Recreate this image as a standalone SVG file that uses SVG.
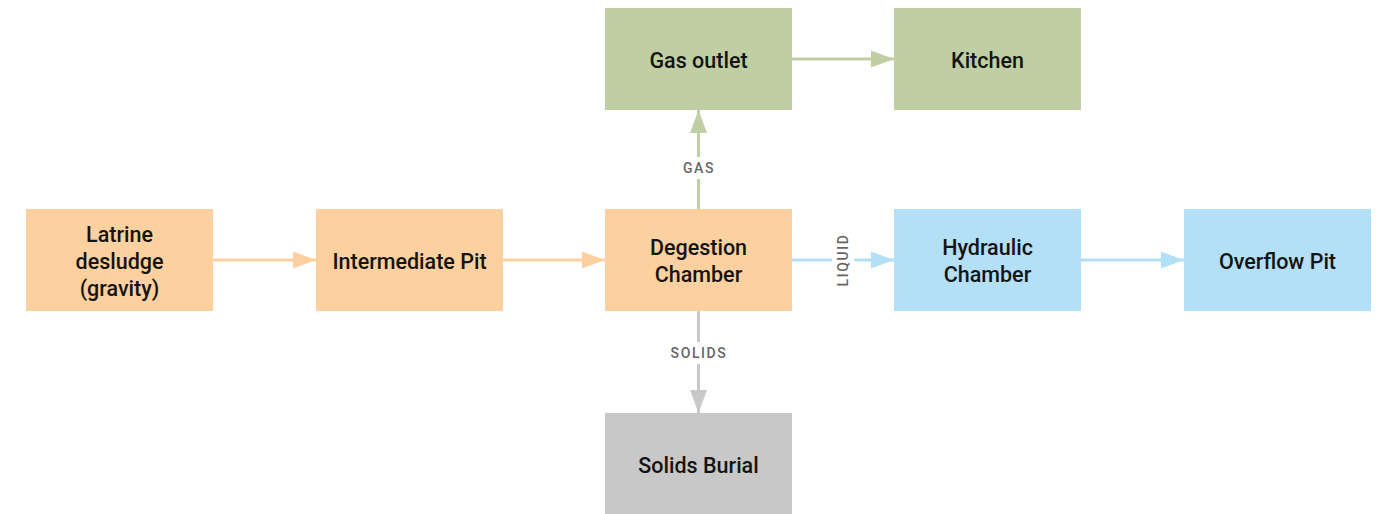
<svg xmlns="http://www.w3.org/2000/svg" width="1376" height="514" viewBox="0 0 1376 514">
<style>
.node text{font-family:Roboto,"Liberation Sans",sans-serif;font-weight:500;font-size:21.5px;fill:#141414;text-anchor:middle;dominant-baseline:central}
.orange{fill:#FCD19F}
.green{fill:#BFCFA3}
.blue{fill:#B3DFF7}
.gray{fill:#C8C8C8}
.lbl{font-family:Roboto,"Liberation Sans",sans-serif;font-weight:500;font-size:14px;fill:#666;text-anchor:middle;dominant-baseline:central;letter-spacing:1.6px}
</style>
<defs>
<marker id="aO" markerWidth="24" markerHeight="18" refX="23" refY="9" orient="auto" markerUnits="userSpaceOnUse"><path d="M0,0.5 L23,9 L0,17.5 Z" fill="#FCD19F"/></marker>
<marker id="aG" markerWidth="24" markerHeight="18" refX="23" refY="9" orient="auto" markerUnits="userSpaceOnUse"><path d="M0,0.5 L23,9 L0,17.5 Z" fill="#BFCFA3"/></marker>
<marker id="aB" markerWidth="24" markerHeight="18" refX="23" refY="9" orient="auto" markerUnits="userSpaceOnUse"><path d="M0,0.5 L23,9 L0,17.5 Z" fill="#B3DFF7"/></marker>
<marker id="aY" markerWidth="24" markerHeight="18" refX="23" refY="9" orient="auto" markerUnits="userSpaceOnUse"><path d="M0,0.5 L23,9 L0,17.5 Z" fill="#C8C8C8"/></marker>
</defs>
<rect width="1376" height="514" fill="#fff"/>
<g id="connectors" fill="none" stroke-width="3">
<line x1="212" y1="260" x2="316" y2="260" stroke="#FCD19F" marker-end="url(#aO)"/>
<line x1="502" y1="260" x2="605" y2="260" stroke="#FCD19F" marker-end="url(#aO)"/>
<line x1="698.5" y1="209" x2="698.5" y2="110" stroke="#BFCFA3" marker-end="url(#aG)"/>
<line x1="792" y1="59" x2="894" y2="59" stroke="#BFCFA3" marker-end="url(#aG)"/>
<line x1="792" y1="260" x2="894" y2="260" stroke="#B3DFF7" marker-end="url(#aB)"/>
<line x1="1080" y1="260" x2="1184" y2="260" stroke="#B3DFF7" marker-end="url(#aB)"/>
<line x1="698.5" y1="311" x2="698.5" y2="413" stroke="#C8C8C8" marker-end="url(#aY)"/>
<rect x="674" y="157" width="49" height="22" fill="#fff" stroke="none"/>
<text class="lbl" x="699" y="168" stroke="none">GAS</text>
<rect x="663" y="342" width="72" height="22" fill="#fff" stroke="none"/>
<text class="lbl" x="699" y="353" stroke="none">SOLIDS</text>
<rect x="832" y="228" width="22" height="64" fill="#fff" stroke="none"/>
<text class="lbl" x="0" y="0" stroke="none" transform="translate(843,260) rotate(-90)">LIQUID</text>
</g>
<g id="latrine" class="node"><rect class="orange" x="26" y="209" width="187" height="102"/><text x="119.5" y="234">Latrine</text><text x="119.5" y="261">desludge</text><text x="119.5" y="288">(gravity)</text></g>
<g id="intermediate" class="node"><rect class="orange" x="316" y="209" width="187" height="102"/><text x="409.5" y="261">Intermediate Pit</text></g>
<g id="degestion" class="node"><rect class="orange" x="605" y="209" width="187" height="102"/><text x="698.5" y="247">Degestion</text><text x="698.5" y="274">Chamber</text></g>
<g id="gasoutlet" class="node"><rect class="green" x="605" y="8" width="187" height="102"/><text x="698.5" y="60">Gas outlet</text></g>
<g id="kitchen" class="node"><rect class="green" x="894" y="8" width="187" height="102"/><text x="987.5" y="60">Kitchen</text></g>
<g id="hydraulic" class="node"><rect class="blue" x="894" y="209" width="187" height="102"/><text x="987.5" y="247">Hydraulic</text><text x="987.5" y="274">Chamber</text></g>
<g id="overflow" class="node"><rect class="blue" x="1184" y="209" width="187" height="102"/><text x="1277.5" y="261">Overflow Pit</text></g>
<g id="solids" class="node"><rect class="gray" x="605" y="413" width="187" height="102"/><text x="698.5" y="465">Solids Burial</text></g>
</svg>
